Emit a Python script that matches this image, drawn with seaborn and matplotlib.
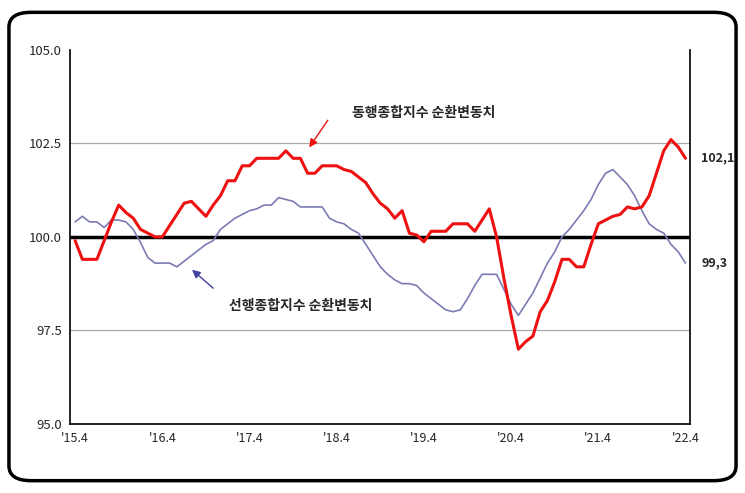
import numpy as np
import pandas as pd
import matplotlib
matplotlib.use("Agg")
import matplotlib.pyplot as plt
from matplotlib.patches import FancyBboxPatch
import seaborn as sns

# 순환변동치, 2015.4 ~ 2022.4 월별
coincident = [99.9, 99.4, 99.4, 99.4, 99.9, 100.4, 100.85, 100.65, 100.5, 100.2,
              100.1, 100.0, 100.0, 100.3, 100.6, 100.9, 100.95, 100.75, 100.55, 100.85,
              101.1, 101.5, 101.5, 101.9, 101.9, 102.1, 102.1, 102.1, 102.1, 102.3,
              102.1, 102.1, 101.7, 101.7, 101.9, 101.9, 101.9, 101.8, 101.75, 101.6,
              101.45, 101.15, 100.9, 100.75, 100.5, 100.7, 100.1, 100.05, 99.87, 100.15,
              100.15, 100.15, 100.35, 100.35, 100.35, 100.15, 100.45, 100.75, 100.0, 98.9,
              97.9, 97.0, 97.2, 97.35, 98.0, 98.3, 98.8, 99.4, 99.4, 99.2,
              99.2, 99.8, 100.35, 100.45, 100.55, 100.6, 100.8, 100.75, 100.8, 101.1,
              101.7, 102.3, 102.6, 102.4, 102.1]
leading = [100.4, 100.55, 100.4, 100.4, 100.25, 100.45, 100.45, 100.4, 100.2, 99.85,
           99.45, 99.3, 99.3, 99.3, 99.2, 99.35, 99.5, 99.65, 99.8, 99.9,
           100.2, 100.35, 100.5, 100.6, 100.7, 100.75, 100.85, 100.85, 101.05, 101.0,
           100.95, 100.8, 100.8, 100.8, 100.8, 100.5, 100.4, 100.35, 100.2, 100.1,
           99.8, 99.5, 99.2, 99.0, 98.85, 98.75, 98.75, 98.7, 98.5, 98.35,
           98.2, 98.05, 98.0, 98.05, 98.35, 98.7, 99.0, 99.0, 99.0, 98.6,
           98.2, 97.9, 98.2, 98.5, 98.9, 99.3, 99.6, 100.0, 100.2, 100.45,
           100.7, 101.0, 101.4, 101.7, 101.8, 101.6, 101.4, 101.1, 100.7, 100.35,
           100.2, 100.1, 99.8, 99.6, 99.3]
tick_labels = ["'15.4", "'16.4", "'17.4", "'18.4", "'19.4", "'20.4", "'21.4", "'22.4"]
y_ticks = [95.0, 97.5, 100.0, 102.5, 105.0]

df = pd.DataFrame({"m": np.arange(len(coincident)), "동행": coincident, "선행": leading})

sns.set_theme(style="white")
plt.rcParams['font.family'] = ['Noto Sans CJK KR', 'DejaVu Sans']

fig = plt.figure(figsize=(7.45, 4.93), dpi=100)
fig.patches.append(FancyBboxPatch((0.012, 0.025), 0.976, 0.95, boxstyle="round,pad=0,rounding_size=0.03",
                                  transform=fig.transFigure, fill=False, lw=2.5, ec="black"))
ax = fig.add_axes([0.094, 0.14, 0.832, 0.759])

for y in (97.5, 102.5):
    ax.axhline(y, color="#aaaaaa", lw=0.9, zorder=1)
ax.axhline(100, color="black", lw=2.5, zorder=2)
sns.lineplot(data=df, x="m", y="선행", ax=ax, color="#7b7bb5", lw=1.2, zorder=3)
sns.lineplot(data=df, x="m", y="동행", ax=ax, color="#ee1111", lw=2.2, zorder=4)

ax.set_xlim(-0.7, 84.6)
ax.set_ylim(95, 105)
ax.set_xticks(np.arange(0, 85, 12))
ax.set_xticklabels(tick_labels, fontsize=9)
ax.set_yticks(y_ticks)
ax.set_yticklabels([f"{v:.1f}" for v in y_ticks], fontsize=9.5)
ax.set_xlabel("")
ax.set_ylabel("")
ax.spines["top"].set_visible(False)
for s in ("left", "right", "bottom"):
    ax.spines[s].set_color("black")
    ax.spines[s].set_linewidth(1.2)
ax.tick_params(axis="both", length=0, pad=6)

# 설명 문구와 짧은 화살표
ax.text(48, 103.3, "동행종합지수 순환변동치", fontsize=10, fontweight="bold", ha="center", va="center")
ax.annotate("", xy=(32, 102.33), xytext=(35, 103.18),
            arrowprops=dict(arrowstyle="-|>", color="#ee1111", lw=1))
ax.text(31, 98.15, "선행종합지수 순환변동치", fontsize=10, fontweight="bold", ha="center", va="center")
ax.annotate("", xy=(15.8, 99.17), xytext=(19.3, 98.58),
            arrowprops=dict(arrowstyle="-|>", color="#4040a0", lw=1))
ax.text(86.2, coincident[-1], "102,1", fontsize=9, fontweight="bold", va="center")
ax.text(86.2, leading[-1], "99,3", fontsize=9, fontweight="bold", va="center")

fig.savefig("out.png", dpi=100)
